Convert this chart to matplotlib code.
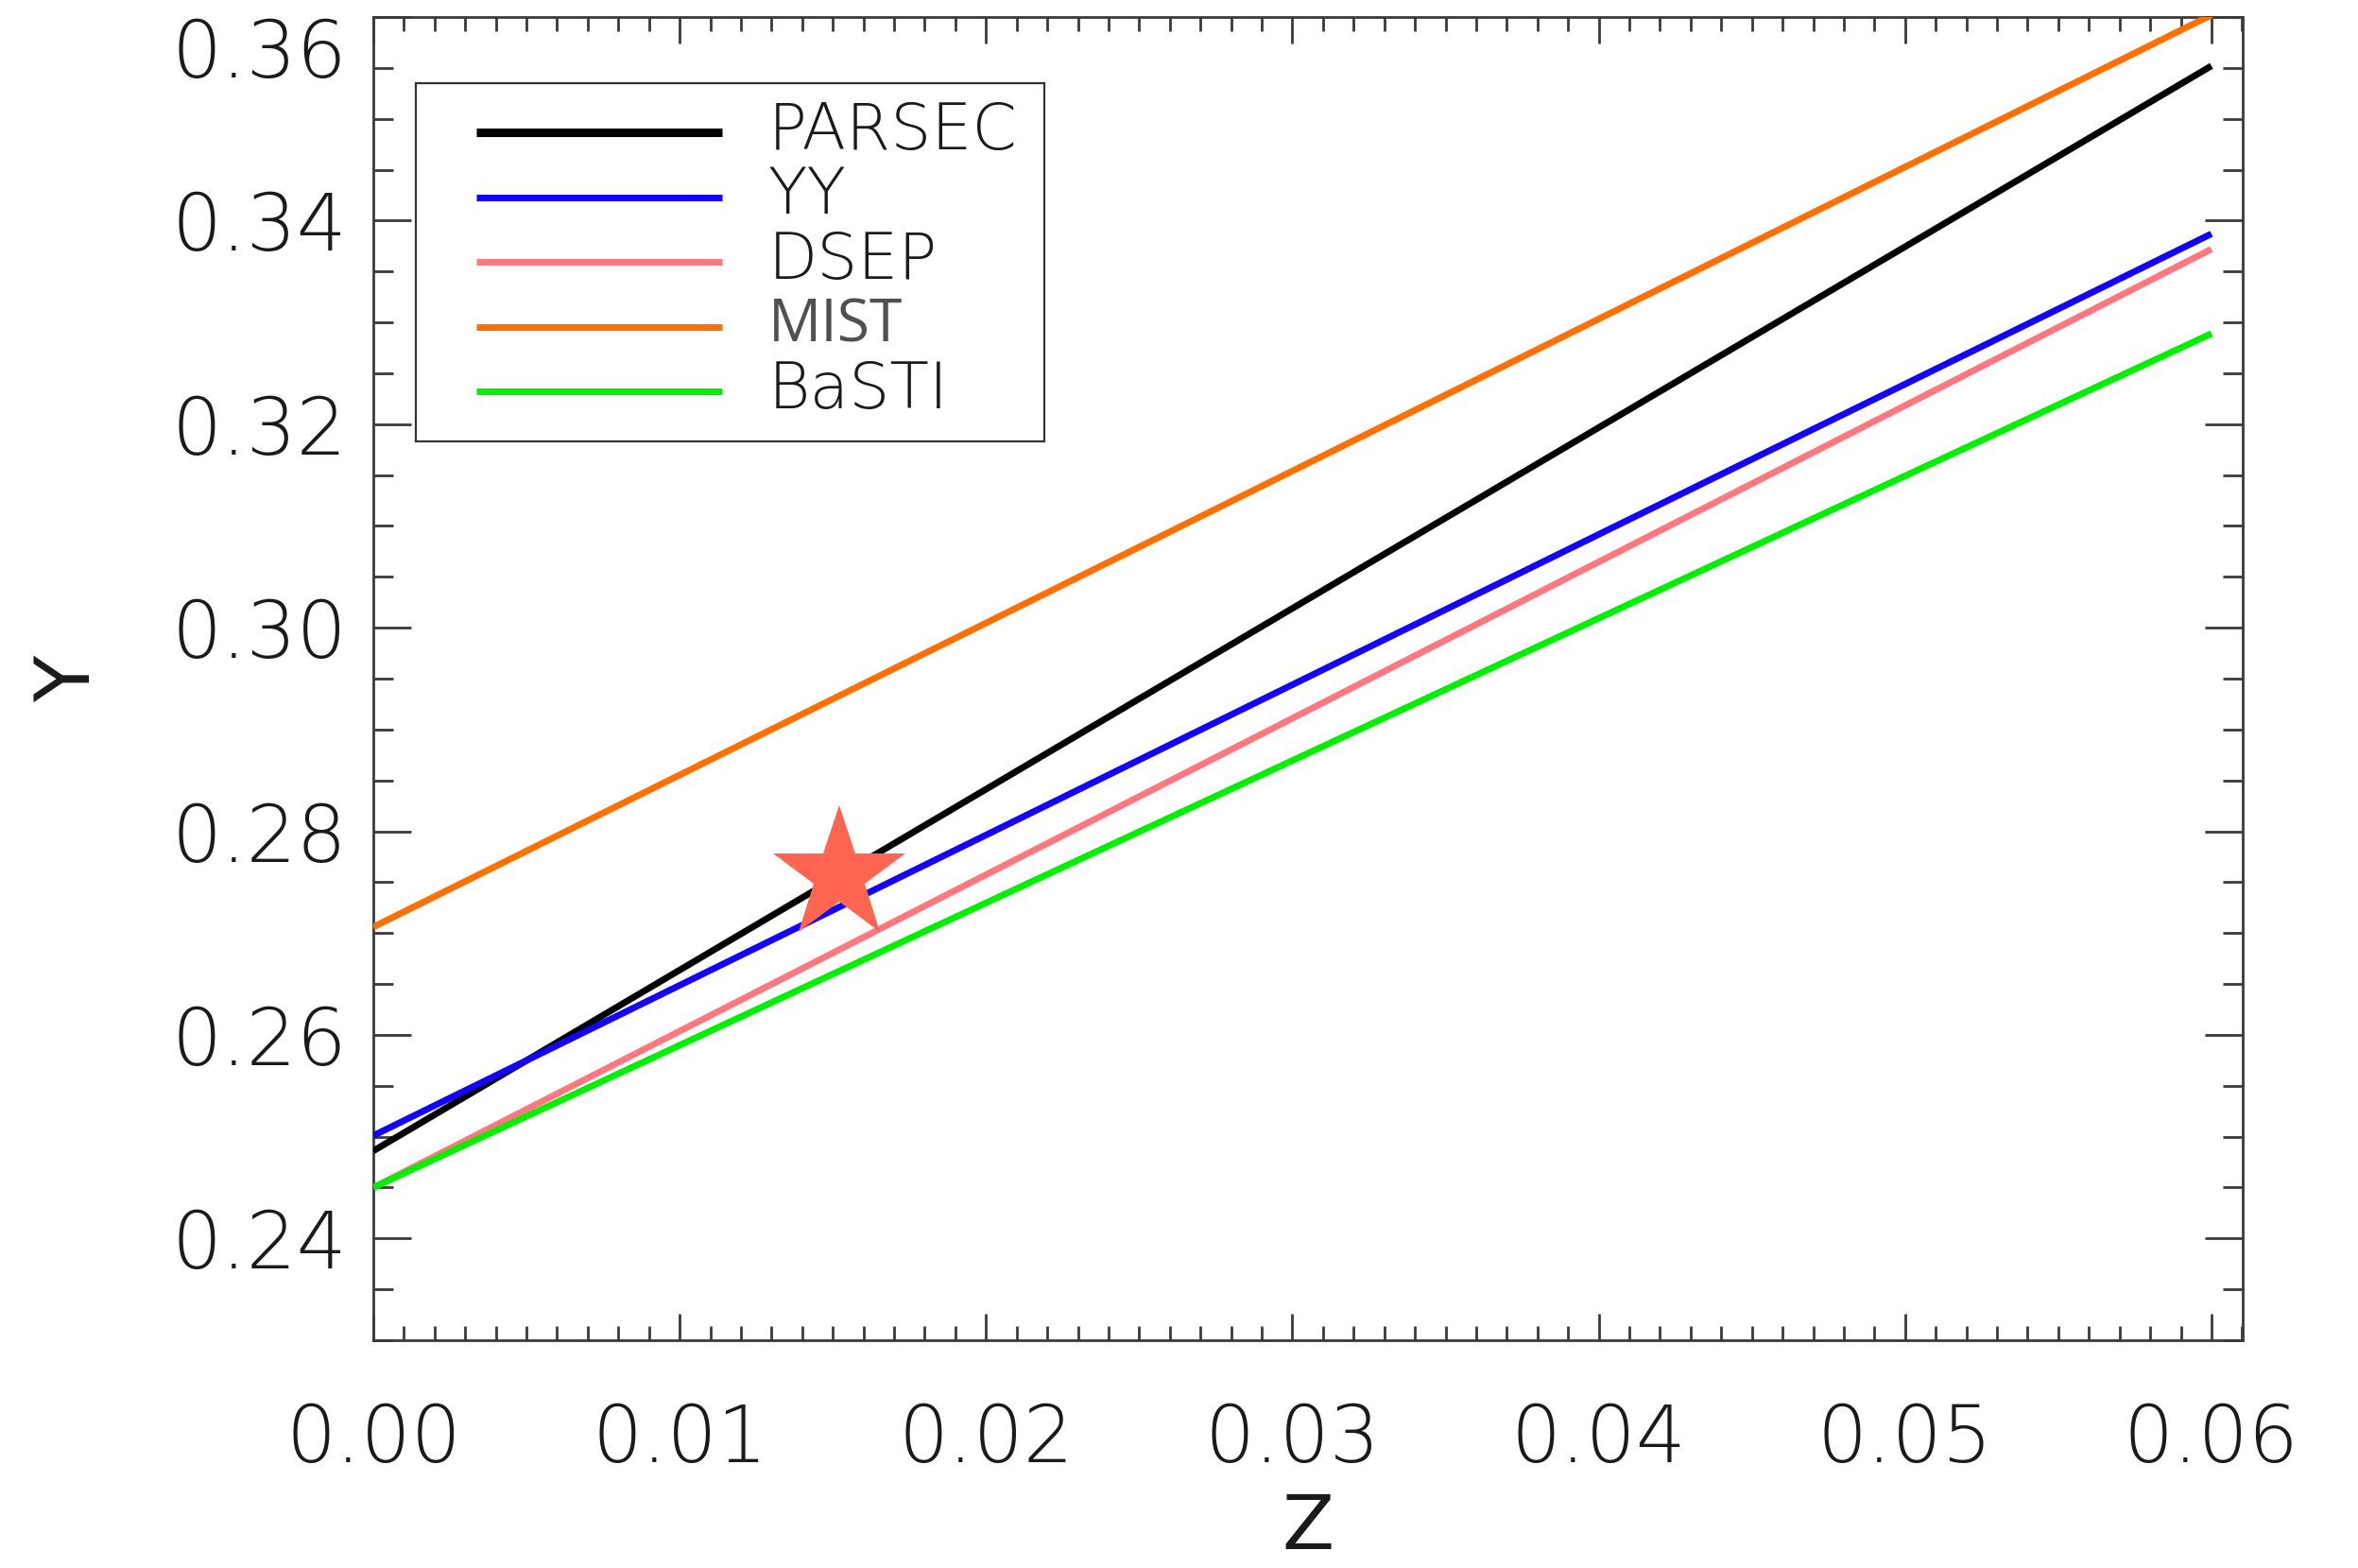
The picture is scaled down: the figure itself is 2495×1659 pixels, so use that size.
import matplotlib
matplotlib.use("Agg")
import matplotlib.pyplot as plt
import matplotlib.font_manager as fm
from matplotlib.ticker import MultipleLocator, FormatStrFormatter
from matplotlib.transforms import ScaledTranslation
from matplotlib.patches import Rectangle

# ---------------- data ----------------
z_grid = [0.0, 0.06]
parsec_y = [0.2486, 0.3552]
yy_y = [0.2501, 0.3387]
dsep_y = [0.2450, 0.3372]
mist_y = [0.2706, 0.3602]
basti_y = [0.2450, 0.3289]

series_names = ["PARSEC", "YY", "DSEP", "MIST", "BaSTI"]
series_colors = ["#000000", "#1400FF", "#FF7880", "#FF7000", "#00F000"]

sun_z = [0.0152]
sun_y = [0.2757]

x_ticks = [0.00, 0.01, 0.02, 0.03, 0.04, 0.05, 0.06]
y_ticks = [0.24, 0.26, 0.28, 0.30, 0.32, 0.34, 0.36]


# ---------------- font pick ----------------
def pick_light():
    cands = ["DejaVu Sans", "Lato", "Roboto", "Open Sans", "Noto Sans", "Inter"]
    for name in cands:
        ws = []
        for f in fm.fontManager.ttflist:
            if f.name == name:
                w = f.weight
                if isinstance(w, str):
                    w = fm.weight_dict.get(w, 400)
                ws.append(w)
        light = [w for w in ws if w <= 300]
        if light:
            return name, max(light)
    return "DejaVu Sans", "normal"


FAM, WGT = pick_light()
plt.rcParams["font.family"] = [FAM, "DejaVu Sans"]
plt.rcParams["font.weight"] = WGT

DPI = 100
fig = plt.figure(figsize=(24.95, 16.59), dpi=DPI)
W, H = 2495, 1659
L, R, T, B = 395, 2373, 18, 1418
ax = fig.add_axes([L / W, 1 - B / H, (R - L) / W, (B - T) / H])

series = [parsec_y, yy_y, dsep_y, mist_y, basti_y]
for name, ys, col in zip(series_names, series, series_colors):
    ax.plot(z_grid, ys, color=col, lw=5, solid_capstyle="butt", zorder=3)

ax.plot(sun_z, sun_y, marker="*", ms=106, color="#FF6550", mew=0, ls="none", zorder=5)

ax.set_xlim(0, 0.06102)
ax.set_ylim(0.23, 0.36)
ax.set_xticks(x_ticks)
ax.set_yticks(y_ticks)
ax.xaxis.set_minor_locator(MultipleLocator(0.001))
ax.yaxis.set_minor_locator(MultipleLocator(0.005))
ax.xaxis.set_major_formatter(FormatStrFormatter("%.2f"))
ax.yaxis.set_major_formatter(FormatStrFormatter("%.2f"))

tc = "#3a3a3a"
for s in ax.spines.values():
    s.set_linewidth(2)
    s.set_color(tc)
ax.tick_params(axis="both", which="both", direction="in", top=True, right=True,
               color=tc, width=2)
ax.tick_params(axis="x", which="major", length=20, pad=47, labelsize=60, labelcolor="#1a1a1a")
ax.tick_params(axis="x", which="minor", length=10.5)
ax.tick_params(axis="y", which="major", length=29, pad=20, labelsize=60, labelcolor="#1a1a1a")
ax.tick_params(axis="y", which="minor", length=15)

# shift the top y label downward like the original
fig.canvas.draw()
for lab in ax.get_yticklabels():
    if lab.get_text() == "0.36":
        lab.set_transform(lab.get_transform() + ScaledTranslation(0, -32 / DPI, fig.dpi_scale_trans))

ax.set_xlabel("Z", fontsize=58, color="#1a1a1a")
ax.set_ylabel("Y", fontsize=58, color="#1a1a1a")
ax.xaxis.set_label_coords(0.5, -(1578 - B) / (B - T))
ax.yaxis.set_label_coords(-(395 - 112) / (R - L), 0.5)


# ---------------- legend (manual, axes coords) ----------------
def axx(px):
    return (px - L) / (R - L)


def axy(py):
    return 1 - (py - T) / (B - T)


ax.add_patch(Rectangle((axx(440), axy(467)), axx(1105) - axx(440), axy(88) - axy(467),
                       transform=ax.transAxes, fill=False, ec="#333333", lw=1.6, zorder=6))
row0, pitch = 140, 68.5
for i, (name, col) in enumerate(zip(series_names, series_colors)):
    yl = row0 + i * pitch
    ax.plot([axx(504), axx(764)], [axy(yl), axy(yl)], transform=ax.transAxes, color=col,
            lw=6.5 if i == 0 else 5, solid_capstyle="butt", zorder=6, clip_on=False)
    if name == "MIST":
        ax.text(axx(813), axy(yl + 16), name, transform=ax.transAxes, fontsize=45,
                family=["Open Sans", "DejaVu Sans"], weight="normal", color="#505050",
                va="baseline", ha="left", zorder=6)
    else:
        ax.text(axx(813), axy(yl + 18), name, transform=ax.transAxes, fontsize=49,
                color="#1a1a1a", va="baseline", ha="left", zorder=6)

fig.savefig("out.png", dpi=DPI, facecolor="white")
